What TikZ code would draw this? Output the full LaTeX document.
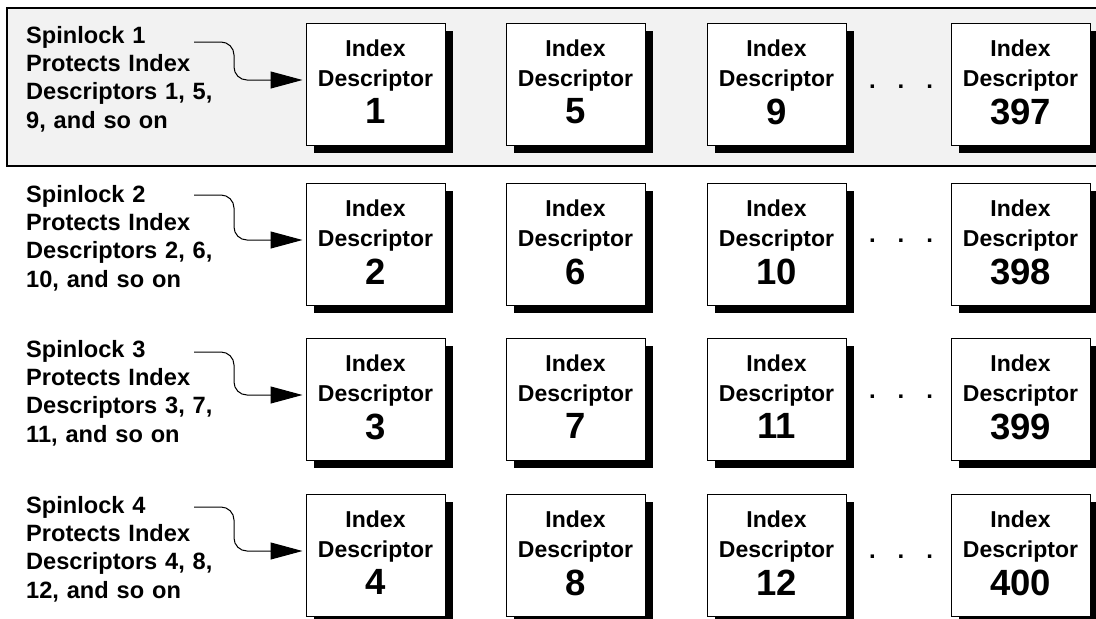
\documentclass[tikz,border=0pt]{standalone}
\usepackage{fontspec}
\setmainfont{Liberation Sans}
\usetikzlibrary{arrows.meta,shadows}

\newcommand{\descnum}[1]{{\fontsize{36.5}{36}\selectfont #1\rule[-4pt]{0pt}{4pt}}}

\begin{document}
\begin{tikzpicture}[x=1pt,y=-1pt,
  desc/.style={draw,fill=white,line width=1pt,minimum width=139pt,minimum height=122pt,
    inner sep=0pt,align=center,font=\fontsize{23}{30}\selectfont\bfseries,
    drop shadow={shadow xshift=8pt,shadow yshift=-8pt,fill=black,opacity=1}},
  lock/.style={anchor=north west,inner sep=0pt,text width=200pt,align=left,
    font=\fontsize{23.6}{28.3}\selectfont\bfseries},
  link/.style={line width=1pt,rounded corners=13pt,shorten >=3pt,
    -{Triangle[length=32pt,width=17pt]}},
  gap/.style={font=\fontsize{24}{24}\selectfont\bfseries}]
  \useasboundingbox (0,0) rectangle (1096,619);
  \clip (0,0) rectangle (1096,619);

  % shaded first row
  \draw[line width=2.2pt,fill=gray!10] (7,8) rectangle (1110,166);

  \node[lock] (l1) at (26,26) {Spinlock 1\\Protects Index\\Descriptors 1, 5,\\9, and so on};
  \node[lock] (l2) at (26,185) {Spinlock 2\\Protects Index\\Descriptors 2, 6,\\10, and so on};
  \node[lock] (l3) at (26,340) {Spinlock 3\\Protects Index\\Descriptors 3, 7,\\11, and so on};
  \node[lock] (l4) at (26,496) {Spinlock 4\\Protects Index\\Descriptors 4, 8,\\12, and so on};

  \node[desc] (d1) at (375.5,84) {Index\\Descriptor\\[7pt]\descnum{1}};
  \node[desc] (d5) at (575.5,84) {Index\\Descriptor\\[7pt]\descnum{5}};
  \node[desc] (d9) at (776.5,84) {Index\\Descriptor\\[7pt]\descnum{9}};
  \node[desc] (d397) at (1020.5,84) {Index\\Descriptor\\[7pt]\descnum{397}};

  \node[desc] (d2) at (375.5,244) {Index\\Descriptor\\[7pt]\descnum{2}};
  \node[desc] (d6) at (575.5,244) {Index\\Descriptor\\[7pt]\descnum{6}};
  \node[desc] (d10) at (776.5,244) {Index\\Descriptor\\[7pt]\descnum{10}};
  \node[desc] (d398) at (1020.5,244) {Index\\Descriptor\\[7pt]\descnum{398}};

  \node[desc] (d3) at (375.5,399) {Index\\Descriptor\\[7pt]\descnum{3}};
  \node[desc] (d7) at (575.5,399) {Index\\Descriptor\\[7pt]\descnum{7}};
  \node[desc] (d11) at (776.5,399) {Index\\Descriptor\\[7pt]\descnum{11}};
  \node[desc] (d399) at (1020.5,399) {Index\\Descriptor\\[7pt]\descnum{399}};

  \node[desc] (d4) at (375.5,555) {Index\\Descriptor\\[7pt]\descnum{4}};
  \node[desc] (d8) at (575.5,555) {Index\\Descriptor\\[7pt]\descnum{8}};
  \node[desc] (d12) at (776.5,555) {Index\\Descriptor\\[7pt]\descnum{12}};
  \node[desc] (d400) at (1020.5,555) {Index\\Descriptor\\[7pt]\descnum{400}};

  % the gaps
  \node[gap] (g1) at (901,87) {.\hspace{22pt}.\hspace{22pt}.};
  \node[gap] (g2) at (901,241) {.\hspace{22pt}.\hspace{22pt}.};
  \node[gap] (g3) at (901,397) {.\hspace{22pt}.\hspace{22pt}.};
  \node[gap] (g4) at (901,557) {.\hspace{22pt}.\hspace{22pt}.};

  % spinlock arrows
  \coordinate (s1) at (194,42);
  \coordinate (s2) at (194,195);
  \coordinate (s3) at (194,352);
  \coordinate (s4) at (194,507);
  \draw[link] (s1) -- ++(40,0) |- ([yshift=4pt]d1.west);
  \draw[link] (s2) -- ++(40,0) |- ([yshift=4pt]d2.west);
  \draw[link] (s3) -- ++(40,0) |- ([yshift=4pt]d3.west);
  \draw[link] (s4) -- ++(40,0) |- ([yshift=4pt]d4.west);
\end{tikzpicture}
\end{document}
